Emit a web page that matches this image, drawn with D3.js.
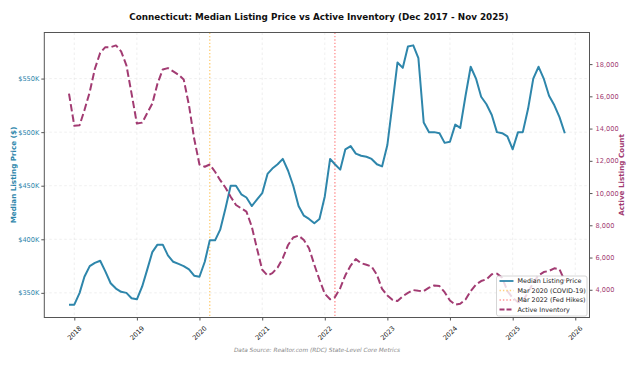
<!DOCTYPE html>
<html>
<head>
<meta charset="utf-8">
<script src="https://cdn.jsdelivr.net/npm/d3@7/dist/d3.min.js"></script>
<style>
body { margin: 0; background: #fff; }
svg { display: block; font-family: "DejaVu Sans", sans-serif; }
</style>
</head>
<body>
<script>
// monthly values, Dec 2017 .. Nov 2025
var firstMonth = '2017-12-01';
var priceK = [
  339, 339, 350, 365, 375, 378, 380, 370, 359, 354, 351, 350,
  345, 344, 356, 371, 388, 395, 395, 385, 379, 377, 375, 372,
  366, 365, 379, 399, 399, 409, 429, 450, 450, 442, 439, 431,
  437, 443, 461, 466, 470, 475, 464, 450, 431, 422, 419, 415,
  419, 440, 475, 470, 465, 484, 487, 480, 478, 477, 475, 470,
  468, 488, 528, 565, 560, 580, 581, 569, 509, 500, 500, 499,
  490, 491, 507, 504, 534, 561, 550, 533, 526, 516, 500, 499,
  496, 484, 500, 500, 522, 550, 561, 550, 534, 525, 514, 499
];
var inventory = [
  16170, 14170, 14210, 15140, 16270, 17710, 18700, 19050, 19050, 19160, 18790, 17920,
  16170, 14310, 14370, 14930, 15550, 16780, 17670, 17750, 17550, 17340, 17050, 15440,
  13380, 11770, 11630, 11770, 11320, 10800, 10330, 9770, 9260, 9050, 8850, 7920,
  6580, 5240, 4890, 5030, 5380, 5960, 6780, 7240, 7360, 7090, 6580, 5550,
  4630, 3750, 3410, 3540, 4100, 4900, 5500, 5900, 5650, 5550, 5440, 4930,
  4050, 3650, 3360, 3300, 3600, 3810, 3980, 3940, 3920, 4130, 4270, 4230,
  3850, 3330, 3080, 3130, 3400, 3920, 4330, 4540, 4650, 4960, 5000, 4750,
  3920, 3500, 3230, 3290, 3850, 4440, 4900, 5100, 5170, 5330, 5270, 4540
];
var priceTicks = [350, 400, 450, 500, 550];
var invTicks = [4000, 6000, 8000, 10000, 12000, 14000, 16000, 18000];
var yearTicks = [2018, 2019, 2020, 2021, 2022, 2023, 2024, 2025, 2026];
var eventNames = ['Mar 2020 (COVID-19)', 'Mar 2022 (Fed Hikes)'];
var eventDates = ['2020-03-01', '2022-03-01'];

var W = 639, H = 365;
var L = 44.3, R = 589.5, T = 32.5, B = 317.5;
var blue = '#2E86AB', plum = '#A23B72';
var eventColors = ['#FFA500', '#FF3333'];

var parse = d3.timeParse('%Y-%m-%d');
var start = parse(firstMonth);
var months = priceK.map(function(d, i) { return d3.timeMonth.offset(start, i); });

var x = d3.scaleTime()
  .domain([new Date(2017, 6, 10), new Date(2026, 2, 25)])
  .range([L, R]);
var y1 = d3.scaleLinear().domain([327, 593]).range([B, T]);
var y2 = d3.scaleLinear().domain([2280, 19960]).range([B, T]);

var svg = d3.select('body').append('svg').attr('width', W).attr('height', H);

// grid
var grid = svg.append('g').attr('stroke', '#e2e2e2').attr('stroke-width', 0.55)
  .attr('stroke-dasharray', '2.5,2.5');
grid.selectAll('line.gx').data(yearTicks).enter().append('line')
  .attr('x1', function(d) { return x(new Date(d, 0, 1)); })
  .attr('x2', function(d) { return x(new Date(d, 0, 1)); })
  .attr('y1', T).attr('y2', B);
grid.selectAll('line.gy').data(priceTicks).enter().append('line')
  .attr('x1', L).attr('x2', R)
  .attr('y1', function(d) { return y1(d); })
  .attr('y2', function(d) { return y1(d); });

// event markers
svg.selectAll('line.event').data(eventDates).enter().append('line')
  .attr('class', 'event')
  .attr('x1', function(d) { return x(parse(d)); })
  .attr('x2', function(d) { return x(parse(d)); })
  .attr('y1', T).attr('y2', B)
  .attr('stroke', function(d, i) { return eventColors[i]; })
  .attr('stroke-opacity', 0.5)
  .attr('stroke-width', 1.4)
  .attr('stroke-dasharray', '1.4,2');

var priceLine = d3.line()
  .x(function(d, i) { return x(months[i]); })
  .y(function(d) { return y1(d); });
var invLine = d3.line()
  .x(function(d, i) { return x(months[i]); })
  .y(function(d) { return y2(d); });

svg.append('path').datum(priceK)
  .attr('d', priceLine)
  .attr('fill', 'none').attr('stroke', blue).attr('stroke-width', 2)
  .attr('stroke-linejoin', 'round');

svg.append('path').datum(inventory)
  .attr('d', invLine)
  .attr('fill', 'none').attr('stroke', plum).attr('stroke-width', 2)
  .attr('stroke-dasharray', '7.4,3.2')
  .attr('stroke-linejoin', 'round');

// frame
svg.append('rect').attr('x', L).attr('y', T).attr('width', R - L).attr('height', B - T)
  .attr('fill', 'none').attr('stroke', '#555').attr('stroke-width', 1);

// left axis
var la = svg.append('g').attr('transform', 'translate(' + L + ',0)')
  .call(d3.axisLeft(y1).tickValues(priceTicks).tickSize(3).tickPadding(2)
    .tickFormat(function(d) { return '$' + d + 'K'; }));
la.select('.domain').remove();
la.selectAll('line').attr('stroke', '#555');
la.selectAll('text').attr('fill', blue).attr('font-size', 6.6)
  .attr('font-family', '"DejaVu Sans", sans-serif');

// right axis
var ra = svg.append('g').attr('transform', 'translate(' + R + ',0)')
  .call(d3.axisRight(y2).tickValues(invTicks).tickSize(3).tickPadding(3)
    .tickFormat(d3.format(',')));
ra.select('.domain').remove();
ra.selectAll('line').attr('stroke', '#555');
ra.selectAll('text').attr('fill', plum).attr('font-size', 6.6)
  .attr('font-family', '"DejaVu Sans", sans-serif');

// bottom axis
var ba = svg.append('g').attr('transform', 'translate(0,' + B + ')')
  .call(d3.axisBottom(x).tickValues(yearTicks.map(function(d) { return new Date(d, 0, 1); }))
    .tickSize(3).tickFormat(d3.timeFormat('%Y')));
ba.select('.domain').remove();
ba.selectAll('line').attr('stroke', '#555');
ba.selectAll('text')
  .attr('font-size', 6.6).attr('fill', '#222')
  .attr('font-family', '"DejaVu Sans", sans-serif')
  .attr('text-anchor', 'end')
  .attr('dy', 0)
  .attr('transform', 'translate(3,7) rotate(-45)');

// titles
svg.append('text').attr('x', (L + R) / 2 + 2).attr('y', 20)
  .attr('text-anchor', 'middle').attr('font-size', 8.8).attr('font-weight', 'bold')
  .attr('fill', '#111')
  .text('Connecticut: Median Listing Price vs Active Inventory (Dec 2017 - Nov 2025)');

svg.append('text').attr('transform', 'translate(16,' + ((T + B) / 2) + ') rotate(-90)')
  .attr('text-anchor', 'middle').attr('font-size', 7.2).attr('font-weight', 'bold')
  .attr('fill', blue).text('Median Listing Price ($)');

svg.append('text').attr('transform', 'translate(624,' + ((T + B) / 2) + ') rotate(-90)')
  .attr('text-anchor', 'middle').attr('font-size', 7.2).attr('font-weight', 'bold')
  .attr('fill', plum).text('Active Listing Count');

svg.append('text').attr('x', (L + R) / 2).attr('y', 352)
  .attr('text-anchor', 'middle').attr('font-size', 5.8).attr('font-style', 'italic')
  .attr('fill', '#888')
  .text('Data Source: Realtor.com (RDC) State-Level Core Metrics');

// legend
var legendItems = [
  { name: 'Median Listing Price', color: blue, dash: null, w: 1.8 },
  { name: eventNames[0], color: eventColors[0], dash: '1.4,2', w: 1.3, op: 0.5 },
  { name: eventNames[1], color: eventColors[1], dash: '1.4,2', w: 1.3, op: 0.5 },
  { name: 'Active Inventory', color: plum, dash: '5,2', w: 1.8 }
];
var lg = svg.append('g').attr('transform', 'translate(496.5,276)');
lg.append('rect').attr('width', 90.5).attr('height', 40).attr('rx', 2)
  .attr('fill', '#fff').attr('fill-opacity', 0.8)
  .attr('stroke', '#ccc').attr('stroke-width', 0.8);
var li = lg.selectAll('g.item').data(legendItems).enter().append('g')
  .attr('transform', function(d, i) { return 'translate(0,' + (5 + i * 9.5) + ')'; });
li.append('line').attr('x1', 3).attr('x2', 17).attr('y1', 0).attr('y2', 0)
  .attr('stroke', function(d) { return d.color; })
  .attr('stroke-width', function(d) { return d.w; })
  .attr('stroke-opacity', function(d) { return d.op || 1; })
  .attr('stroke-dasharray', function(d) { return d.dash; });
li.append('text').attr('x', 21).attr('y', 2.3).attr('font-size', 6.4).attr('fill', '#222')
  .text(function(d) { return d.name; });
</script>
</body>
</html>
